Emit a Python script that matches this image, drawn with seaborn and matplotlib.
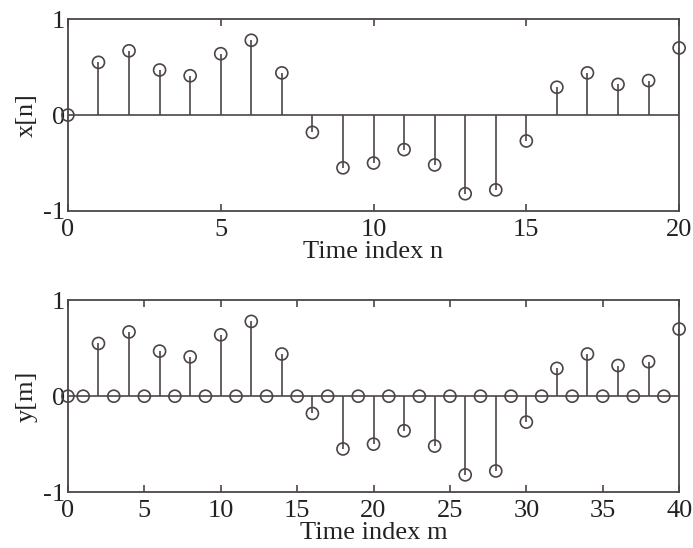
import numpy as np
import pandas as pd
import matplotlib
matplotlib.use("Agg")
import matplotlib.pyplot as plt
import seaborn as sns

# Data
n_idx = list(range(0, 21))
x_vals = [0.0, 0.55, 0.67, 0.47, 0.41, 0.64, 0.78, 0.44, -0.18, -0.55, -0.50,
          -0.36, -0.52, -0.82, -0.78, -0.27, 0.29, 0.44, 0.32, 0.36, 0.70]
m_idx = list(range(0, 41))
y_vals = [0.0, 0.0, 0.55, 0.0, 0.67, 0.0, 0.47, 0.0, 0.41, 0.0, 0.64, 0.0,
          0.78, 0.0, 0.44, 0.0, -0.18, 0.0, -0.55, 0.0, -0.50, 0.0, -0.36, 0.0,
          -0.52, 0.0, -0.82, 0.0, -0.78, 0.0, -0.27, 0.0, 0.29, 0.0, 0.44, 0.0,
          0.32, 0.0, 0.36, 0.0, 0.70]
x_ticks_top = [0, 5, 10, 15, 20]
x_ticks_bot = [0, 5, 10, 15, 20, 25, 30, 35, 40]
y_ticks = [-1, 0, 1]
y_ticklabels = ["-1", "0", "1"]

sns.set_theme(style="white")
plt.rcParams['font.family'] = ['Liberation Serif', 'DejaVu Serif']
plt.rcParams['axes.unicode_minus'] = False

COL = "#4d4545"
fig = plt.figure(figsize=(6.93, 5.48), dpi=100)
ax1 = fig.add_axes([0.098, 0.615, 0.882, 0.350])
ax2 = fig.add_axes([0.098, 0.102, 0.882, 0.350])


def stem(ax, idx, vals, xmax, xticks, xlabel, ylabel):
    df = pd.DataFrame({"i": idx, "v": vals})
    ax.axhline(0, color=COL, lw=1.2, zorder=1)
    ax.vlines(df["i"], 0, df["v"], color=COL, lw=1.2, zorder=2)
    sns.scatterplot(data=df, x="i", y="v", ax=ax, marker="o", s=75,
                    facecolors="none", edgecolor=COL, linewidth=1.2,
                    zorder=3, legend=False, clip_on=False)
    ax.set_xlim(0, xmax)
    ax.set_ylim(-1, 1)
    ax.set_xticks(xticks)
    ax.set_xticklabels([str(t) for t in xticks])
    ax.set_yticks(y_ticks)
    ax.set_yticklabels(y_ticklabels)
    ax.tick_params(axis="x", direction="in", length=5, width=1.2, color=COL,
                   top=True, bottom=True, labelsize=19, pad=6, labelcolor="#222")
    ax.tick_params(axis="y", length=0, labelsize=19, pad=2, labelcolor="#222")
    for sp in ax.spines.values():
        sp.set_color(COL)
        sp.set_linewidth(1.3)
    ax.set_xlabel(xlabel, fontsize=19, labelpad=0, color="#222")
    ax.set_ylabel(ylabel, fontsize=19, labelpad=4, color="#222")


stem(ax1, n_idx, x_vals, 20, x_ticks_top, "Time index n", "x[n]")
stem(ax2, m_idx, y_vals, 40, x_ticks_bot, "Time index m", "y[m]")

fig.savefig("out.png", dpi=100)
